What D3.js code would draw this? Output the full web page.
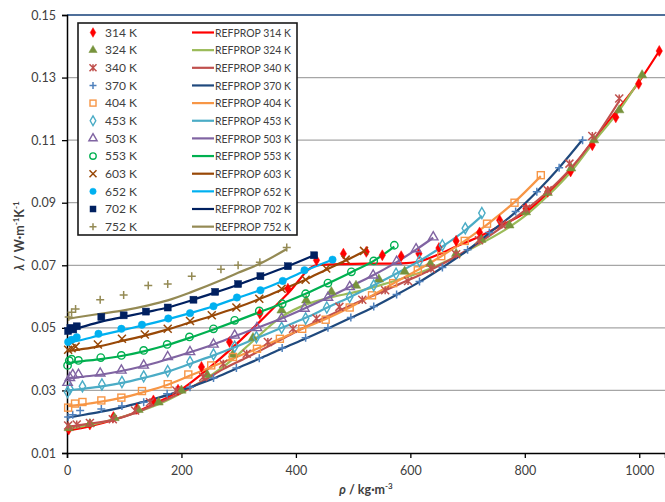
<!DOCTYPE html>
<html lang="en">
<head>
<meta charset="utf-8">
<title>CO2 thermal conductivity</title>
<script src="https://d3js.org/d3.v7.min.js"></script>
<style>
  body { margin: 0; background: #fff; }
  svg text { font-family: Lato, "Open Sans", sans-serif; }
</style>
</head>
<body>
<div id="chart"></div>
<script>
"use strict";

// isotherms, K
const temps = [314, 324, 340, 370, 404, 453, 503, 553, 603, 652, 702, 752];

const rho314 = [3, 40, 81, 122, 151, 194, 235, 284, 337, 386, 436, 483, 523, 551, 584, 615, 650, 680, 721, 756, 802, 840, 880, 918, 959, 999, 1035];
const lam314 = [0.0175, 0.0191, 0.0215, 0.0241, 0.0268, 0.0302, 0.0375, 0.0455, 0.0545, 0.0625, 0.0716, 0.0737, 0.0743, 0.0732, 0.0729, 0.0737, 0.0755, 0.0778, 0.0805, 0.0844, 0.0881, 0.0935, 0.1000, 0.1084, 0.1173, 0.1280, 0.1385];
const ref314 = [0.0172, 0.0186, 0.0206, 0.0232, 0.0256, 0.0296, 0.0352, 0.0428, 0.0520, 0.0610, 0.0700, 0.0704, 0.0705, 0.0705, 0.0706, 0.0712, 0.0735, 0.0760, 0.0792, 0.0825, 0.0870, 0.0930, 0.1005, 0.1095, 0.1190, 0.1285, 0.1385];

const rho324 = [3, 40, 83, 125, 160, 200, 245, 290, 325, 375, 418, 462, 505, 545, 590, 635, 680, 724, 773, 802, 840, 881, 921, 965, 1005];
const lam324 = [0.0180, 0.0193, 0.0212, 0.0238, 0.0262, 0.0300, 0.0350, 0.0415, 0.0468, 0.0556, 0.0588, 0.0615, 0.0635, 0.0655, 0.0680, 0.0705, 0.0737, 0.0782, 0.0828, 0.0870, 0.0932, 0.1010, 0.1100, 0.1196, 0.1308];
const ref324 = [0.0178, 0.0190, 0.0208, 0.0232, 0.0256, 0.0292, 0.0340, 0.0400, 0.0458, 0.0535, 0.0575, 0.0598, 0.0615, 0.0635, 0.0660, 0.0690, 0.0728, 0.0770, 0.0822, 0.0860, 0.0922, 0.1000, 0.1095, 0.1195, 0.1305];

const rho340 = [2, 17, 40, 80, 119, 145, 191, 238, 273, 314, 351, 395, 436, 476, 516, 556, 596, 636, 680, 720, 760, 802, 840, 878, 918, 965];
const lam340 = [0.0188, 0.0191, 0.0196, 0.0208, 0.0236, 0.0262, 0.0300, 0.0343, 0.0385, 0.0417, 0.0455, 0.0497, 0.0530, 0.0567, 0.0590, 0.0620, 0.0650, 0.0690, 0.0735, 0.0780, 0.0830, 0.0881, 0.0940, 0.1025, 0.1113, 0.1233];
const ref340 = [0.0185, 0.0188, 0.0194, 0.0206, 0.0228, 0.0248, 0.0285, 0.0330, 0.0368, 0.0405, 0.0440, 0.0483, 0.0520, 0.0555, 0.0588, 0.0620, 0.0652, 0.0686, 0.0728, 0.0772, 0.0822, 0.0878, 0.0936, 0.1005, 0.1095, 0.1225];

const rho370 = [2, 10, 23, 60, 96, 134, 175, 215, 256, 296, 336, 376, 417, 456, 496, 536, 576, 616, 656, 700, 738, 784, 821, 860, 901];
const lam370 = [0.0215, 0.0222, 0.0236, 0.0241, 0.0250, 0.0262, 0.0289, 0.0310, 0.0340, 0.0372, 0.0403, 0.0436, 0.0468, 0.0500, 0.0533, 0.0568, 0.0607, 0.0648, 0.0693, 0.0750, 0.0805, 0.0872, 0.0935, 0.1012, 0.1100];
const ref370 = [0.0213, 0.0216, 0.0220, 0.0232, 0.0246, 0.0264, 0.0285, 0.0310, 0.0338, 0.0370, 0.0401, 0.0434, 0.0466, 0.0498, 0.0532, 0.0567, 0.0606, 0.0647, 0.0693, 0.0748, 0.0803, 0.0870, 0.0935, 0.1012, 0.1102];

const rho404 = [2, 14, 27, 60, 95, 131, 176, 212, 252, 290, 332, 372, 411, 452, 494, 533, 570, 613, 654, 695, 734, 782, 828];
const lam404 = [0.0245, 0.0258, 0.0263, 0.0268, 0.0277, 0.0298, 0.0320, 0.0351, 0.0380, 0.0407, 0.0433, 0.0465, 0.0497, 0.0526, 0.0565, 0.0604, 0.0643, 0.0684, 0.0729, 0.0778, 0.0833, 0.0900, 0.0988];
const ref404 = [0.0250, 0.0252, 0.0255, 0.0264, 0.0276, 0.0293, 0.0318, 0.0345, 0.0375, 0.0403, 0.0433, 0.0465, 0.0497, 0.0528, 0.0565, 0.0603, 0.0642, 0.0685, 0.0729, 0.0778, 0.0830, 0.0902, 0.0985];

const rho453 = [1, 5, 27, 61, 96, 134, 176, 215, 256, 293, 331, 375, 417, 454, 494, 536, 575, 616, 656, 696, 725];
const lam453 = [0.0295, 0.0305, 0.0313, 0.0319, 0.0327, 0.0345, 0.0362, 0.0391, 0.0415, 0.0440, 0.0470, 0.0500, 0.0530, 0.0565, 0.0599, 0.0636, 0.0673, 0.0714, 0.0764, 0.0818, 0.0867];
const ref453 = [0.0298, 0.0300, 0.0305, 0.0313, 0.0324, 0.0340, 0.0360, 0.0385, 0.0412, 0.0438, 0.0467, 0.0500, 0.0532, 0.0564, 0.0598, 0.0636, 0.0673, 0.0714, 0.0760, 0.0812, 0.0858];

const rho503 = [1, 5, 10, 20, 58, 95, 134, 176, 215, 256, 293, 332, 375, 415, 456, 494, 535, 576, 610, 640];
const lam503 = [0.0325, 0.0340, 0.0350, 0.0351, 0.0355, 0.0364, 0.0380, 0.0407, 0.0423, 0.0447, 0.0476, 0.0500, 0.0530, 0.0562, 0.0597, 0.0631, 0.0668, 0.0712, 0.0752, 0.0790];
const ref503 = [0.0335, 0.0337, 0.0339, 0.0342, 0.0350, 0.0362, 0.0378, 0.0400, 0.0422, 0.0447, 0.0473, 0.0500, 0.0530, 0.0562, 0.0597, 0.0631, 0.0668, 0.0710, 0.0750, 0.0788];

const rho553 = [1, 4, 8, 20, 59, 95, 134, 175, 214, 256, 293, 336, 376, 417, 456, 497, 536, 572];
const lam553 = [0.0380, 0.0395, 0.0400, 0.0396, 0.0405, 0.0412, 0.0428, 0.0447, 0.0471, 0.0497, 0.0524, 0.0554, 0.0577, 0.0609, 0.0643, 0.0679, 0.0714, 0.0764];
const ref553 = [0.0385, 0.0387, 0.0389, 0.0392, 0.0400, 0.0410, 0.0425, 0.0445, 0.0468, 0.0495, 0.0520, 0.0550, 0.0578, 0.0609, 0.0642, 0.0678, 0.0714, 0.0760];

const rho603 = [2, 8, 15, 54, 96, 136, 176, 215, 253, 296, 336, 375, 417, 453, 487, 519];
const lam603 = [0.0430, 0.0435, 0.0440, 0.0447, 0.0465, 0.0479, 0.0497, 0.0522, 0.0540, 0.0565, 0.0593, 0.0625, 0.0654, 0.0690, 0.0718, 0.0746];
const ref603 = [0.0425, 0.0427, 0.0429, 0.0440, 0.0458, 0.0475, 0.0495, 0.0517, 0.0538, 0.0564, 0.0592, 0.0622, 0.0654, 0.0686, 0.0715, 0.0744];

const rho652 = [2, 8, 17, 55, 95, 131, 177, 215, 256, 297, 338, 377, 415, 464];
const lam652 = [0.0455, 0.0462, 0.0470, 0.0481, 0.0497, 0.0510, 0.0530, 0.0547, 0.0569, 0.0597, 0.0620, 0.0650, 0.0684, 0.0718];
const ref652 = [0.0453, 0.0455, 0.0458, 0.0475, 0.0492, 0.0507, 0.0528, 0.0547, 0.0569, 0.0595, 0.0621, 0.0650, 0.0682, 0.0718];

const rho702 = [2, 6, 11, 17, 60, 99, 138, 176, 221, 259, 299, 338, 386, 432];
const lam702 = [0.0490, 0.0500, 0.0495, 0.0505, 0.0535, 0.0540, 0.0552, 0.0565, 0.0590, 0.0615, 0.0640, 0.0665, 0.0697, 0.0732];
const ref702 = [0.0490, 0.0492, 0.0495, 0.0498, 0.0520, 0.0535, 0.0550, 0.0565, 0.0590, 0.0613, 0.0638, 0.0664, 0.0697, 0.0732];

const rho752 = [3, 8, 15, 58, 99, 142, 176, 218, 269, 299, 337, 384];
const lam752 = [0.0535, 0.0550, 0.0560, 0.0590, 0.0605, 0.0635, 0.0640, 0.0665, 0.0687, 0.0700, 0.0710, 0.0757];
const ref752 = [0.0530, 0.0531, 0.0533, 0.0545, 0.0556, 0.0572, 0.0588, 0.0615, 0.0652, 0.0676, 0.0705, 0.0752];

const yTicks = [0.01, 0.03, 0.05, 0.07, 0.09, 0.11, 0.13, 0.15];
const xTicks = [0, 200, 400, 600, 800, 1000];

// marker style per isotherm
const markerShape = ["diamond", "triangle", "star", "plus", "square", "diamond", "triangle", "circle", "cross", "circle", "square", "plus"];
const markerFilled = [true, true, false, false, false, false, false, false, false, true, true, false];
const markerColor = ["#FF0000", "#77933C", "#C0504D", "#4F81BD", "#F79646", "#4BACC6", "#8064A2", "#00B050", "#984807", "#00B0F0", "#002060", "#948A54"];
const lineColor = ["#FF0000", "#9BBB59", "#C0504D", "#1F497D", "#F79646", "#4BACC6", "#8064A2", "#00B050", "#984807", "#00B0F0", "#002060", "#948A54"];

const rhos = [rho314, rho324, rho340, rho370, rho404, rho453, rho503, rho553, rho603, rho652, rho702, rho752];
const lams = [lam314, lam324, lam340, lam370, lam404, lam453, lam503, lam553, lam603, lam652, lam702, lam752];
const refs = [ref314, ref324, ref340, ref370, ref404, ref453, ref503, ref553, ref603, ref652, ref702, ref752];

const series = temps.map((t, i) => ({
  t: t,
  shape: markerShape[i],
  filled: markerFilled[i],
  mcol: markerColor[i],
  lcol: lineColor[i],
  exp: rhos[i].map((r, j) => ({ r: r, l: lams[i][j] })),
  ref: rhos[i].map((r, j) => ({ r: r, l: refs[i][j] }))
}));

const W = 665, H = 502;
const svg = d3.select("#chart").append("svg").attr("width", W).attr("height", H);

const x = d3.scaleLinear().domain([0, 1045]).range([67, 665]);
const y = d3.scaleLinear().domain([0.01, 0.15]).range([453, 15]);

// gridlines
svg.append("g").selectAll("line")
  .data(yTicks.filter(v => v > 0.01 && v < 0.15))
  .enter().append("line")
    .attr("x1", x(0)).attr("x2", W)
    .attr("y1", d => y(d)).attr("y2", d => y(d))
    .attr("stroke", "#A6A6A6").attr("stroke-width", 1.2);

svg.append("line")
  .attr("x1", x(0)).attr("x2", W)
  .attr("y1", y(0.15)).attr("y2", y(0.15))
  .attr("stroke", "#4F6F9A").attr("stroke-width", 2);

// axes
const yAxis = svg.append("g")
  .attr("transform", "translate(" + x(0) + ",0)")
  .call(d3.axisLeft(y).tickValues(yTicks).tickFormat(d3.format(".2f")).tickSizeOuter(0).tickSize(5).tickPadding(6));

const xAxis = svg.append("g")
  .attr("transform", "translate(0," + y(0.01) + ")")
  .call(d3.axisBottom(x).tickValues(xTicks).tickFormat(d3.format("d")).tickSizeOuter(0).tickSize(5).tickPadding(8));

[yAxis, xAxis].forEach(g => {
  g.select(".domain").attr("stroke", "#000").attr("stroke-width", 1.5);
  g.selectAll(".tick line").attr("stroke", "#000").attr("stroke-width", 1.3);
  g.selectAll(".tick text").attr("fill", "#404040").style("font-size", "12.5px");
});

// axis titles
svg.append("text")
  .attr("transform", "translate(24,236) rotate(-90)")
  .attr("text-anchor", "middle")
  .style("font-weight", "bold").style("font-size", "12.5px").attr("fill", "#404040")
  .html('<tspan font-style="italic">λ</tspan> / W·m<tspan dy="-5" font-size="8">-1</tspan><tspan dy="5">K</tspan><tspan dy="-5" font-size="8">-1</tspan>');

svg.append("text")
  .attr("x", 366).attr("y", 494)
  .attr("text-anchor", "middle")
  .style("font-weight", "bold").style("font-size", "12.5px").attr("fill", "#404040")
  .html('<tspan font-style="italic">ρ</tspan> / kg·m<tspan dy="-5" font-size="8">-3</tspan>');

// marker drawing
function marker(g, s, cx, cy, size) {
  const h = size / 2;
  const col = s.mcol;
  if (s.shape === "diamond") {
    g.append("path").attr("d", d3.symbol(d3.symbolDiamond, size * size * 0.55)())
      .attr("transform", "translate(" + cx + "," + cy + ")")
      .attr("fill", s.filled ? col : "none").attr("stroke", col).attr("stroke-width", s.filled ? 0.5 : 1.4);
  } else if (s.shape === "triangle") {
    g.append("path").attr("d", d3.symbol(d3.symbolTriangle, size * size * 0.6)())
      .attr("transform", "translate(" + cx + "," + cy + ")")
      .attr("fill", s.filled ? col : "none").attr("stroke", col).attr("stroke-width", s.filled ? 0.5 : 1.4);
  } else if (s.shape === "square") {
    g.append("rect").attr("x", cx - h + 0.5).attr("y", cy - h + 0.5).attr("width", size - 1).attr("height", size - 1)
      .attr("fill", s.filled ? col : "none").attr("stroke", col).attr("stroke-width", s.filled ? 0.5 : 1.4);
  } else if (s.shape === "circle") {
    g.append("circle").attr("cx", cx).attr("cy", cy).attr("r", h - 0.3)
      .attr("fill", s.filled ? col : "none").attr("stroke", col).attr("stroke-width", s.filled ? 0.5 : 1.4);
  } else if (s.shape === "plus") {
    g.append("path").attr("d", "M" + (cx - h) + "," + cy + "H" + (cx + h) + "M" + cx + "," + (cy - h) + "V" + (cy + h))
      .attr("stroke", col).attr("stroke-width", 1.5).attr("fill", "none");
  } else if (s.shape === "cross") {
    g.append("path").attr("d", "M" + (cx - h) + "," + (cy - h) + "L" + (cx + h) + "," + (cy + h) + "M" + (cx + h) + "," + (cy - h) + "L" + (cx - h) + "," + (cy + h))
      .attr("stroke", col).attr("stroke-width", 1.5).attr("fill", "none");
  } else if (s.shape === "star") {
    g.append("path").attr("d", "M" + (cx - h) + "," + (cy - h) + "L" + (cx + h) + "," + (cy + h) + "M" + (cx + h) + "," + (cy - h) + "L" + (cx - h) + "," + (cy + h) + "M" + cx + "," + (cy - h) + "V" + (cy + h))
      .attr("stroke", col).attr("stroke-width", 1.5).attr("fill", "none");
  }
}

// REFPROP lines
const line = d3.line().x(d => x(d.r)).y(d => y(d.l)).curve(d3.curveMonotoneX);
const plot = svg.append("g");
series.forEach(s => {
  plot.append("path").datum(s.ref)
    .attr("d", line)
    .attr("fill", "none").attr("stroke", s.lcol).attr("stroke-width", 2.2);
});

// measured points
series.forEach(s => {
  const g = plot.append("g");
  s.exp.forEach(p => marker(g, s, x(p.r), y(p.l), 8));
});

// legend
const lg = svg.append("g");
lg.append("rect").attr("x", 78).attr("y", 23).attr("width", 219).attr("height", 212)
  .attr("fill", "#fff").attr("stroke", "#1a1a1a").attr("stroke-width", 1.6);

series.forEach((s, i) => {
  const cy = 32.5 + i * 17.65;
  marker(lg, s, 93, cy, 7);
  lg.append("text").attr("x", 105).attr("y", cy + 4.3)
    .style("font-size", "12px").attr("fill", "#404040").text(s.t + " K");
  lg.append("line").attr("x1", 192).attr("x2", 214).attr("y1", cy).attr("y2", cy)
    .attr("stroke", s.lcol).attr("stroke-width", 2.2);
  lg.append("text").attr("x", 215).attr("y", cy + 4.3)
    .style("font-size", "12px").attr("fill", "#404040")
    .attr("textLength", 76).attr("lengthAdjust", "spacingAndGlyphs")
    .text("REFPROP " + s.t + " K");
});
</script>
</body>
</html>
